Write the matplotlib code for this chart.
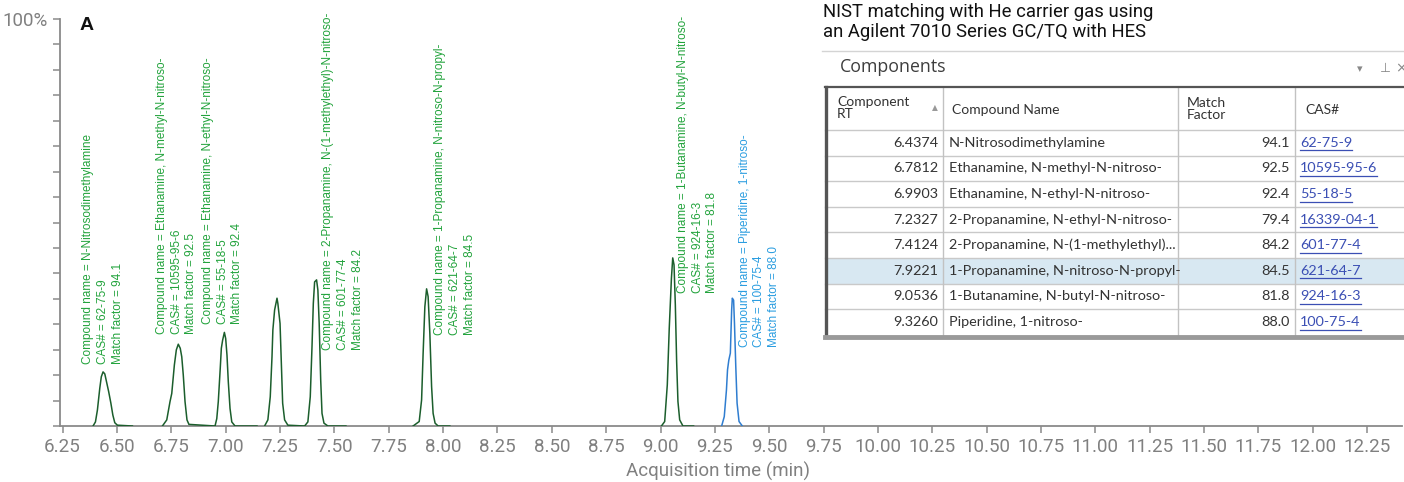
import matplotlib
matplotlib.use("Agg")
import matplotlib.pyplot as plt
import numpy as np
from matplotlib.lines import Line2D
from matplotlib.patches import Rectangle

# ---------------- data ----------------
# chromatogram traces: retention time (min) and relative response (%)
t_p1 = [6.390, 6.401, 6.410, 6.421, 6.428, 6.436, 6.444, 6.451, 6.462, 6.472, 6.481, 6.490, 6.502, 6.571]
y_p1 = [0.0, 1.0, 3.9, 9.3, 12.1, 13.3, 12.8, 11.1, 8.4, 5.6, 2.7, 0.8, 0.2, 0.0]

t_p2 = [6.709, 6.729, 6.744, 6.752, 6.764, 6.773, 6.782, 6.791, 6.798, 6.805, 6.813, 6.822, 6.831, 6.951]
y_p2 = [0.0, 1.5, 6.0, 8.0, 15.0, 18.7, 20.1, 19.1, 17.0, 12.5, 6.0, 1.5, 0.4, 0.0]

t_p3 = [6.951, 6.959, 6.966, 6.975, 6.980, 6.986, 6.994, 7.000, 7.006, 7.012, 7.020, 7.028, 7.043, 7.144]
y_p3 = [0.0, 1.8, 6.0, 14.2, 19.1, 21.1, 23.0, 21.5, 17.4, 10.9, 4.3, 1.0, 0.0, 0.0]

t_p4 = [7.179, 7.194, 7.205, 7.213, 7.217, 7.225, 7.236, 7.240, 7.250, 7.256, 7.262, 7.271, 7.286, 7.363]
y_p4 = [0.0, 1.5, 7.2, 17.0, 23.6, 28.5, 31.4, 30.1, 25.2, 15.4, 5.6, 1.5, 0.2, 0.0]

t_p5 = [7.363, 7.378, 7.389, 7.397, 7.403, 7.409, 7.418, 7.424, 7.430, 7.437, 7.443, 7.452, 7.470, 7.553]
y_p5 = [0.0, 1.0, 7.2, 19.5, 30.1, 35.4, 35.9, 33.4, 25.2, 11.3, 3.1, 0.7, 0.0, 0.0]

t_p6 = [7.862, 7.890, 7.901, 7.908, 7.916, 7.924, 7.931, 7.939, 7.947, 7.954, 7.963, 7.977, 8.031]
y_p6 = [0.0, 1.1, 6.4, 17.8, 29.3, 33.7, 31.8, 22.7, 9.7, 3.1, 0.7, 0.0, 0.0]

t_p7 = [9.004, 9.019, 9.031, 9.040, 9.050, 9.056, 9.062, 9.068, 9.074, 9.080, 9.088, 9.103, 9.152]
y_p7 = [0.0, 1.1, 10.1, 24.0, 36.3, 41.3, 39.6, 29.7, 15.8, 6.0, 1.5, 0.0, 0.0]

t_p8 = [9.281, 9.293, 9.303, 9.308, 9.314, 9.321, 9.327, 9.330, 9.336, 9.340, 9.346, 9.352, 9.361, 9.376]
y_p8 = [0.0, 2.3, 8.8, 13.8, 16.2, 17.9, 28.5, 31.4, 30.9, 25.2, 14.6, 5.6, 1.1, 0.0]

trace_times = [t_p1, t_p2, t_p3, t_p4, t_p5, t_p6, t_p7, t_p8]
trace_resp = [y_p1, y_p2, y_p3, y_p4, y_p5, y_p6, y_p7, y_p8]

# component table
comp_rt = ["6.4374", "6.7812", "6.9903", "7.2327", "7.4124", "7.9221", "9.0536", "9.3260"]
comp_name = ["N-Nitrosodimethylamine", "Ethanamine, N-methyl-N-nitroso-",
             "Ethanamine, N-ethyl-N-nitroso-", "2-Propanamine, N-ethyl-N-nitroso-",
             "2-Propanamine, N-(1-methylethyl)...", "1-Propanamine, N-nitroso-N-propyl-",
             "1-Butanamine, N-butyl-N-nitroso-", "Piperidine, 1-nitroso-"]
comp_mf = [94.1, 92.5, 92.4, 79.4, 84.2, 84.5, 81.8, 88.0]
comp_cas = ["62-75-9", "10595-95-6", "55-18-5", "16339-04-1", "601-77-4", "621-64-7", "924-16-3", "100-75-4"]

# peak annotations (index into traces, full compound name)
label_peak = [0, 1, 2, 4, 5, 6, 7]
label_name = ["N-Nitrosodimethylamine", "Ethanamine, N-methyl-N-nitroso-",
              "Ethanamine, N-ethyl-N-nitroso-", "2-Propanamine, N-(1-methylethyl)-N-nitroso-",
              "1-Propanamine, N-nitroso-N-propyl-", "1-Butanamine, N-butyl-N-nitroso-",
              "Piperidine, 1-nitroso-"]
label_x = [6.436, 6.775, 6.986, 7.540, 8.054, 9.170, 9.454]
label_y = [15.2, 22.7, 25.1, 18.7, 22.4, 32.6, 19.5]

x_ticks = np.arange(6.25, 12.26, 0.25)
highlight_row = 5

# ---------------- figure ----------------
W, H = 1404, 482
fig = plt.figure(figsize=(W / 100, H / 100), dpi=100)

def px_box(x0, y0, x1, y1):
    return [x0 / W, 1 - y1 / H, (x1 - x0) / W, (y1 - y0) / H]

ax = fig.add_axes(px_box(60, 19, 1402, 426))
grey = "#8a8a8a"
trace_green = "#1b5e2c"
trace_blue = "#2f7dd0"
label_green = "#22a33c"
label_blue = "#2a9de0"

for i, (t, r) in enumerate(zip(trace_times, trace_resp)):
    ax.plot(t, r, color=trace_blue if i == 7 else trace_green, lw=1.1, zorder=3)

for k, i in enumerate(label_peak):
    col = label_blue if i == 7 else label_green
    txt = (f"Compound name = {label_name[k]}\nCAS# = {comp_cas[i]}\n"
           f"Match factor = {comp_mf[i]:.1f}")
    ax.text(label_x[k], label_y[k], txt, rotation=90, ha="center", va="bottom",
            multialignment="left", color=col, fontsize=8.5, linespacing=1.3,
            family="Liberation Sans")

ax.set_xlim(6.238, 12.41)
ax.set_ylim(0, 100)
ax.set_xticks(x_ticks)
ax.set_xticklabels([f"{v:.2f}" for v in x_ticks])
yt = np.arange(0, 100.01, 6.25)
ax.set_yticks(yt)
ax.set_yticklabels(["100%" if abs(v - 100) < 1e-6 else "" for v in yt])
for s in ["top", "right"]:
    ax.spines[s].set_visible(False)
for s in ["left", "bottom"]:
    ax.spines[s].set_color(grey)
    ax.spines[s].set_linewidth(1.3)
ax.tick_params(axis="both", colors=grey, length=5, width=1.1, labelsize=13.5,
               labelcolor="#808080", pad=4)
for lab in ax.get_xticklabels() + ax.get_yticklabels():
    lab.set_family("Roboto")
ax.set_xlabel("Acquisition time (min)", fontsize=13.5, color="#808080",
              family="Roboto", labelpad=6)
ax.xaxis.set_label_coords(0.49, -0.088)

# ---------------- overlay in pixel coordinates ----------------
ov = fig.add_axes([0, 0, 1, 1])
ov.set_xlim(0, W)
ov.set_ylim(H, 0)
ov.axis("off")
ov.patch.set_alpha(0)

ov.text(80, 25, "A", fontsize=14, fontweight="bold", family="Liberation Sans",
        va="center", ha="left", color="#111111")

ov.text(823, 3, "NIST matching with He carrier gas using\nan Agilent 7010 Series GC/TQ with HES",
        fontsize=13.3, family="Roboto", va="top", ha="left", color="#111111",
        linespacing=1.17)

# panel header
ov.add_line(Line2D([822, W], [51, 51], color="#d4d4d4", lw=1))
ov.text(840, 67, "Components", fontsize=12.8, family="Open Sans", color="#3d3d3d",
        va="center", ha="left")
ov.text(1360, 69, "▾", fontsize=8, family="DejaVu Sans", color="#888888",
        va="center", ha="center")
ov.text(1385, 68, "⊥", fontsize=9, family="DejaVu Sans", color="#888888",
        va="center", ha="center")
ov.text(1401, 68, "×", fontsize=10, family="DejaVu Sans", color="#888888",
        va="center", ha="center")

# table grid
tab_top, head_bot, row_h = 87, 130, 25.6
col_x = [943, 1178, 1295]
n_rows = len(comp_rt)
tab_bot = head_bot + n_rows * row_h
ov.add_patch(Rectangle((825, tab_top), W - 825, tab_bot - tab_top,
                       facecolor="white", edgecolor="none", zorder=1))
hy = head_bot + highlight_row * row_h
ov.add_patch(Rectangle((825, hy), W - 825, row_h, facecolor="#d8e8f2",
                       edgecolor="none", zorder=1.5))
for r in range(n_rows):
    y = head_bot + r * row_h
    ov.add_line(Line2D([825, W], [y, y], color="#c9c9c9", lw=1, zorder=2))
for cx in col_x:
    ov.add_line(Line2D([cx, cx], [tab_top, tab_bot], color="#c2c2c2", lw=1, zorder=2))
ov.add_line(Line2D([825, W], [tab_top, tab_top], color="#555555", lw=1.6, zorder=3))
ov.add_line(Line2D([825.5, 825.5], [tab_top, tab_bot + 2], color="#555555", lw=2.4, zorder=3))
ov.add_line(Line2D([825, W], [tab_bot + 2, tab_bot + 2], color="#9a9a9a", lw=3.5, zorder=3))

tfont = dict(family="Lato", fontsize=10.4, color="#333333", zorder=4)
hfont = dict(family="Lato", fontsize=10.0, color="#333333", zorder=4)
ov.text(837, 108, "Component\nRT", va="center", ha="left", linespacing=1.0, **hfont)
ov.text(935, 108, "▲", va="center", ha="center", family="DejaVu Sans", fontsize=5.5,
        color="#999999", zorder=4)
ov.text(952, 110, "Compound Name", va="center", ha="left", **hfont)
ov.text(1187, 109, "Match\nFactor", va="center", ha="left", linespacing=1.0, **hfont)
ov.text(1305, 110, "CAS#", va="center", ha="left", **hfont)

cas_texts = []
for r in range(n_rows):
    yc = head_bot + (r + 0.5) * row_h
    ov.text(938, yc, comp_rt[r], va="center", ha="right", **tfont)
    ov.text(949, yc, comp_name[r], va="center", ha="left", **tfont)
    ov.text(1290, yc, f"{comp_mf[r]:.1f}", va="center", ha="right", **tfont)
    cas_texts.append(ov.text(1300, yc, comp_cas[r], va="center", ha="left",
                             family="Lato", fontsize=10.4, color="#3b4fb4", zorder=4))

# underline the CAS links
fig.canvas.draw()
inv = ov.transData.inverted()
for r, t in enumerate(cas_texts):
    bb = t.get_window_extent()
    (x0, _), (x1, _) = inv.transform([(bb.x0, bb.y0), (bb.x1, bb.y0)])
    yu = head_bot + (r + 0.5) * row_h + 7.5
    ov.add_line(Line2D([x0, x1], [yu, yu], color="#3b4fb4", lw=0.9, zorder=4))

fig.savefig("out.png", dpi=100)
